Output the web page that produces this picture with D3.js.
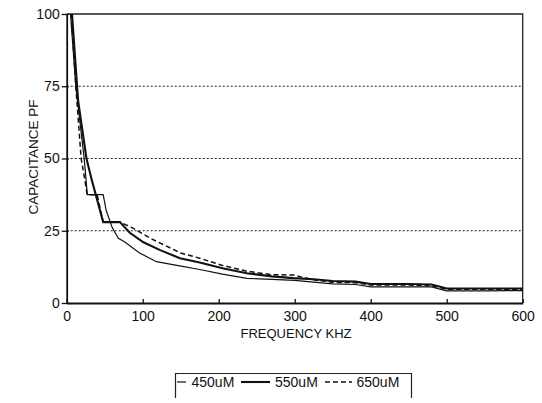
<!DOCTYPE html>
<html>
<head>
<meta charset="utf-8">
<script src="https://cdn.jsdelivr.net/npm/d3@7"></script>
<style>
  body { margin: 0; background: #fff; }
  svg { display: block; font-family: "Liberation Sans", Arial, sans-serif; }
</style>
</head>
<body>
<div id="chart"><svg width="542" height="403"></svg></div>
<script>
// values
const series450 = [[5,100],[12,75],[23,50],[25.5,42.5],[27,37.5],[48,37.5],[52,32],[60,26],[68,22.4],[77,21],[87,19],[96,17.3],[118,14.3],[145,13],[175,11.6],[205,10],[237,8.5],[270,8.2],[300,7.8],[325,7.2],[350,6.6],[380,6.4],[400,5.6],[450,5.6],[480,5.6],[500,4.2],[550,4.2],[600,4.3]];
const series550 = [[7,100],[15,70],[26,50],[33,42.6],[48,28],[70,28],[83,24.3],[101,21],[123,18.3],[149,15.5],[175,14],[205,12],[237,10.3],[270,9.2],[298,8.6],[325,8.2],[350,7.6],[380,7.4],[400,6.6],[450,6.6],[480,6.4],[500,5],[550,5],[600,5]];
const series650 = [[6,100],[12,75],[19,50],[23,44],[27,37.5],[40,37.5],[48,28],[70,28],[88,25.8],[110,22.4],[132,19.6],[150,17.3],[175,15.5],[205,13],[237,11],[270,9.8],[298,9.7],[325,8],[350,7.2],[380,7],[400,6.2],[450,6.2],[480,6],[500,4.7],[550,4.8],[600,4.7]];
const seriesNames = ["450uM", "550uM", "650uM"];
const xTicks = [0, 100, 200, 300, 400, 500, 600];
const yTicks = [0, 25, 50, 75, 100];
const gridValues = [25, 50, 75];

let svg = d3.select("#chart").select("svg");

let margin = {top: 14, right: 19.3, bottom: 100, left: 66.7};
let width = 542 - margin.left - margin.right;
let height = 403 - margin.top - margin.bottom;

let x = d3.scaleLinear().domain([0, 600]).range([margin.left, margin.left + width]);
let y = d3.scaleLinear().domain([0, 100]).range([margin.top + height, margin.top]);

// dotted grid lines
svg.append("g").selectAll("line")
    .data(gridValues)
    .enter().append("line")
    .attr("x1", x(0)).attr("x2", x(600))
    .attr("y1", d => y(d)).attr("y2", d => y(d))
    .attr("stroke", "#222")
    .attr("stroke-width", 1.2)
    .attr("stroke-dasharray", "2,2");

// top and right frame
svg.append("path")
    .attr("d", `M${x(0)},${y(100)}H${x(600)}V${y(0)}`)
    .attr("fill", "none")
    .attr("stroke", "#222")
    .attr("stroke-width", 1.3);

// axes
let xAxis = svg.append("g")
    .attr("transform", `translate(0,${y(0)})`)
    .call(d3.axisBottom(x).tickValues(xTicks).tickSizeInner(-4).tickSizeOuter(0).tickPadding(8));
let yAxis = svg.append("g")
    .attr("transform", `translate(${x(0)},0)`)
    .call(d3.axisLeft(y).tickValues(yTicks).tickSizeInner(5).tickSizeOuter(0).tickPadding(2));

[xAxis, yAxis].forEach(a => {
    a.select(".domain").attr("stroke", "#111").attr("stroke-width", 1.8);
    a.selectAll(".tick line").attr("stroke", "#111").attr("stroke-width", 1.3);
    a.selectAll("text")
        .attr("fill", "#111")
        .style("font-size", "14px")
        .style("font-family", "Liberation Sans, Arial, sans-serif");
});
yAxis.selectAll(".tick line").attr("x2", -5).attr("x1", 2);

// lines
let line = d3.line().x(d => x(d[0])).y(d => y(d[1]));
let styles = [
    {data: series450, w: 1.2, dash: null},
    {data: series550, w: 2.1, dash: null},
    {data: series650, w: 1.5, dash: "5,3"}
];
svg.append("g").selectAll("path")
    .data(styles)
    .enter().append("path")
    .attr("d", d => line(d.data))
    .attr("fill", "none")
    .attr("stroke", "#111")
    .attr("stroke-width", d => d.w)
    .attr("stroke-dasharray", d => d.dash);

// axis titles
svg.append("text")
    .attr("x", 296).attr("y", 337.5)
    .attr("text-anchor", "middle")
    .style("font-size", "13px")
    .attr("fill", "#111")
    .text("FREQUENCY KHZ");

svg.append("text")
    .attr("transform", `translate(38,157) rotate(-90)`)
    .attr("text-anchor", "middle")
    .style("font-size", "13.5px")
    .attr("fill", "#111")
    .text("CAPACITANCE PF");

// legend
let legend = svg.append("g");
legend.append("path")
    .attr("d", "M175.5,398V373.5H411.5V398")
    .attr("fill", "none")
    .attr("stroke", "#222")
    .attr("stroke-width", 1.2);

let legendItems = [
    {x1: 177, x2: 186, tx: 191.5},
    {x1: 241, x2: 270, tx: 275},
    {x1: 325, x2: 352, tx: 356.5}
];
legendItems.forEach((it, i) => {
    legend.append("line")
        .attr("x1", it.x1).attr("x2", it.x2)
        .attr("y1", 382).attr("y2", 382)
        .attr("stroke", "#111")
        .attr("stroke-width", styles[i].w)
        .attr("stroke-dasharray", styles[i].dash);
    legend.append("text")
        .attr("x", it.tx).attr("y", 387)
        .style("font-size", "14px")
        .attr("fill", "#111")
        .text(seriesNames[i]);
});
</script>
</body>
</html>
